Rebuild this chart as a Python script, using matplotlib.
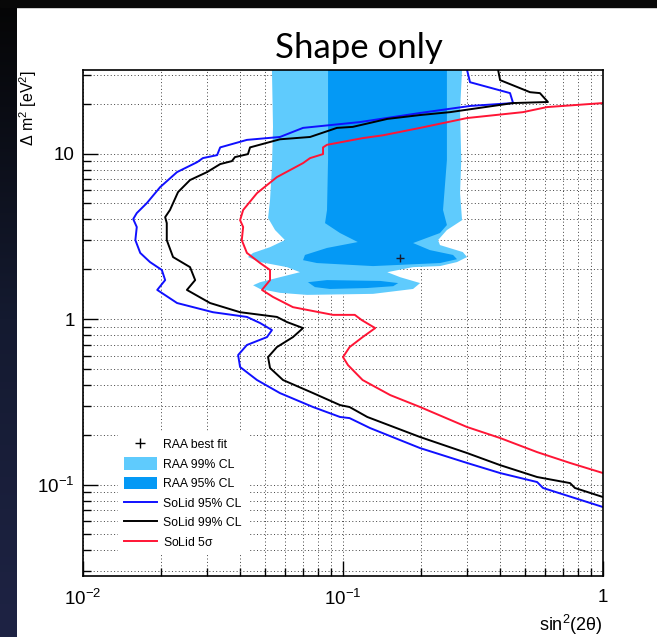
import numpy as np
import matplotlib.pyplot as plt
from matplotlib.patches import Patch, Rectangle
from matplotlib.lines import Line2D
from matplotlib.ticker import LogLocator, NullFormatter, FixedLocator, FixedFormatter

plt.rcParams['font.family'] = ['Liberation Sans', 'DejaVu Sans']
plt.rcParams['mathtext.default'] = 'regular'

# SoLid 95% CL exclusion contour (sin^2 2theta, dm^2 [eV^2])
solid95_x = [0.30, 0.308, 0.439, 0.451, 0.308, 0.198, 0.116, 0.0702, 0.0572, 0.0427,
             0.0337, 0.0328, 0.0289, 0.0275, 0.0230, 0.0198, 0.0176, 0.0161, 0.0156, 0.0161,
             0.0159, 0.0166, 0.0181, 0.0201, 0.0207, 0.0193, 0.0230, 0.0316, 0.0427, 0.0480,
             0.0533, 0.0510, 0.0427, 0.0395, 0.0402, 0.0467, 0.0572, 0.0767, 0.0974, 0.106,
             0.127, 0.198, 0.300, 0.402, 0.558, 0.588, 1.0]
solid95_y = [32, 27.0, 23.2, 20.2, 19.4, 17.6, 15.5, 14.3, 12.6, 12.1,
             10.9, 9.79, 9.39, 8.88, 7.73, 6.27, 5.02, 4.37, 4.02, 3.60,
             3.00, 2.51, 2.21, 1.98, 1.72, 1.50, 1.25, 1.10, 1.03, 0.946,
             0.858, 0.778, 0.697, 0.606, 0.513, 0.428, 0.357, 0.294, 0.256, 0.252,
             0.2195, 0.166, 0.135, 0.1173, 0.1035, 0.0953, 0.0731]

# SoLid 99% CL
solid99_x = [0.395, 0.402, 0.524, 0.572, 0.614, 0.451, 0.258, 0.198, 0.148, 0.109,
             0.0948, 0.0747, 0.0572, 0.0439, 0.0431, 0.0384, 0.0374, 0.0337, 0.0300, 0.0258,
             0.0232, 0.0216, 0.0207, 0.0210, 0.0210, 0.0222, 0.0258, 0.0270, 0.0251, 0.0308,
             0.0402, 0.0557, 0.0609, 0.0702, 0.0642, 0.0557, 0.0515, 0.0524, 0.0588, 0.0767,
             0.0974, 0.106, 0.124, 0.198, 0.300, 0.402, 0.558, 0.747, 0.780, 1.0]
solid99_y = [32, 27.8, 23.5, 23.2, 20.5, 20.2, 17.8, 17.1, 16.2, 14.5,
             14.3, 12.6, 12.2, 10.9, 9.93, 9.52, 9.01, 8.64, 7.73, 6.92,
             5.85, 4.56, 4.13, 3.80, 3.00, 2.37, 2.06, 1.72, 1.50, 1.25,
             1.10, 1.03, 0.959, 0.882, 0.778, 0.677, 0.589, 0.506, 0.428, 0.357,
             0.302, 0.294, 0.256, 0.1936, 0.155, 0.131, 0.111, 0.102, 0.0953, 0.0840]

# SoLid 5 sigma
solid5s_x = [1.0, 0.609, 0.492, 0.300, 0.198, 0.1425, 0.119, 0.0868, 0.0838, 0.0838,
             0.0747, 0.0702, 0.0557, 0.0467, 0.0413, 0.0402, 0.0413, 0.0408, 0.0427, 0.0480,
             0.0524, 0.0524, 0.0488, 0.0538, 0.0642, 0.0915, 0.111, 0.118, 0.133, 0.119,
             0.106, 0.100, 0.1045, 0.119, 0.152, 0.198, 0.300, 0.402, 0.558, 0.747, 1.0]
solid5s_y = [20.2, 19.1, 17.8, 16.4, 14.3, 12.9, 12.4, 11.3, 10.9, 9.93,
             9.39, 8.76, 7.21, 5.77, 4.56, 3.96, 3.60, 3.00, 2.51, 2.18,
             1.98, 1.72, 1.50, 1.36, 1.18, 1.06, 1.06, 0.986, 0.882, 0.778,
             0.677, 0.589, 0.527, 0.428, 0.347, 0.294, 0.2226, 0.191, 0.157, 0.135, 0.1173]

# RAA allowed regions
raa99_x = [0.0533, 0.0538, 0.0533, 0.0524, 0.0515, 0.0548, 0.0598, 0.0524, 0.0451, 0.0431,
           0.0480, 0.0609, 0.0683, 0.0572, 0.0480, 0.0451, 0.0480, 0.0572, 0.0727, 0.1305,
           0.186, 0.198, 0.166, 0.148, 0.186, 0.236, 0.2745, 0.300, 0.289, 0.236,
           0.232, 0.251, 0.287, 0.282, 0.285, 0.282, 0.287]
raa99_y = [32, 14.5, 8.29, 5.24, 4.08, 3.45, 3.00, 2.72, 2.51, 2.37,
           2.21, 2.06, 1.92, 1.79, 1.67, 1.60, 1.52, 1.44, 1.40, 1.42,
           1.52, 1.65, 1.79, 1.92, 2.06, 2.09, 2.21, 2.37, 2.54, 2.80,
           3.00, 3.45, 3.96, 5.77, 9.14, 18.3, 32]

raa95_x = [0.0876, 0.0876, 0.0868, 0.0853, 0.0974, 0.114, 0.0868, 0.0714, 0.0702, 0.0794,
           0.1305, 0.236, 0.2745, 0.265, 0.216, 0.186, 0.236, 0.251, 0.2425, 0.251, 0.251]
raa95_y = [32, 9.14, 4.56, 3.80, 3.31, 2.92, 2.69, 2.44, 2.27, 2.18,
           2.09, 2.18, 2.30, 2.44, 2.61, 2.88, 3.31, 3.70, 4.56, 9.14, 32]
raa95_island_x = [0.0733, 0.0868, 0.139, 0.163, 0.156, 0.1237, 0.0891, 0.078]
raa95_island_y = [1.67, 1.72, 1.70, 1.65, 1.58, 1.54, 1.52, 1.56]

best_fit = (0.166, 2.34)

light_blue = '#5fcbfd'
dark_blue = '#0499f5'
c_blue = '#1010ff'
c_red = '#ff1535'

fig = plt.figure(figsize=(6.57, 6.37), dpi=100, facecolor='white')

# slide background strips
bg = fig.add_axes([0, 0, 17 / 657, 1])
grad = np.linspace(0, 1, 256)[:, None]
bg.imshow(grad, aspect='auto', cmap=plt.matplotlib.colors.LinearSegmentedColormap.from_list(
    'bg', ['#1e2344', '#141a30', '#050505']), origin='lower')
bg.set_axis_off()
fig.add_artist(Rectangle((0, 1 - 7 / 637), 1, 7 / 637, transform=fig.transFigure,
                         color='#080808', zorder=10))

ax = fig.add_axes([83 / 657, 1 - 576 / 637, 520 / 657, 506 / 637])
ax.set_xscale('log')
ax.set_yscale('log')
ax.set_xlim(0.01, 1)
ax.set_ylim(0.028, 32)

ax.fill(raa99_x, raa99_y, color=light_blue, lw=0, zorder=1)
ax.fill(raa95_x, raa95_y, color=dark_blue, lw=0, zorder=1.1)
ax.fill(raa95_island_x, raa95_island_y, color=dark_blue, lw=0, zorder=1.1)
ax.plot(*best_fit, marker='+', color='#1a1a2a', ms=6, mew=1, ls='none', zorder=3)

ax.plot(solid95_x, solid95_y, color=c_blue, lw=1.4, zorder=2)
ax.plot(solid99_x, solid99_y, color='black', lw=1.4, zorder=2)
ax.plot(solid5s_x, solid5s_y, color=c_red, lw=1.4, zorder=2)

ax.set_axisbelow(True)
ax.grid(True, which='both', color='0.25', ls=(0, (1, 2.5)), lw=0.7)

ax.xaxis.set_major_locator(FixedLocator([0.01, 0.1, 1]))
ax.xaxis.set_major_formatter(FixedFormatter([r'$10^{-2}$', r'$10^{-1}$', '1']))
ax.yaxis.set_major_locator(FixedLocator([0.1, 1, 10]))
ax.yaxis.set_major_formatter(FixedFormatter([r'$10^{-1}$', '1', '10']))
for a in (ax.xaxis, ax.yaxis):
    a.set_minor_locator(LogLocator(base=10, subs=np.arange(2, 10), numticks=20))
    a.set_minor_formatter(NullFormatter())
ax.tick_params(which='both', direction='in', top=False, right=False, width=1, colors='black')
ax.tick_params(which='major', length=11, labelsize=13.5)
ax.tick_params(axis='x', which='major', pad=9)
ax.tick_params(axis='y', which='major', pad=6)
ax.tick_params(which='minor', length=5.5)
for s in ax.spines.values():
    s.set_linewidth(1.2)

ax.set_xlabel(r'sin$^{2}$(2$\theta$)', fontsize=13, loc='right', labelpad=3)
ax.set_ylabel(r'$\Delta$ m$^{2}$ [eV$^{2}$]', fontsize=11.5, loc='top')
ax.yaxis.set_label_coords(-0.085, 1.0)

fig.text(359 / 657, 1 - 58 / 637, 'Shape only', fontsize=25, family='Lato',
         ha='center', va='baseline')

handles = [Line2D([], [], ls='none', marker='+', color='black', ms=7, mew=1),
           Patch(facecolor=light_blue, edgecolor='none'),
           Patch(facecolor=dark_blue, edgecolor='none'),
           Line2D([], [], color=c_blue, lw=1.4),
           Line2D([], [], color='black', lw=1.4),
           Line2D([], [], color=c_red, lw=1.4)]
labels = ['RAA best fit', 'RAA 99% CL', 'RAA 95% CL', 'SoLid 95% CL', 'SoLid 99% CL',
          r'SoLid 5$\sigma$']
leg = ax.legend(handles, labels, loc='upper left', bbox_to_anchor=(0.067, 0.285),
                borderaxespad=0, frameon=True, fancybox=False, edgecolor='none',
                facecolor='white', framealpha=1, fontsize=8.8, handlelength=2.7,
                handleheight=1.2, labelspacing=0.5, handletextpad=0.5, borderpad=0.5)

fig.savefig('out.png', dpi=100, facecolor='white')
